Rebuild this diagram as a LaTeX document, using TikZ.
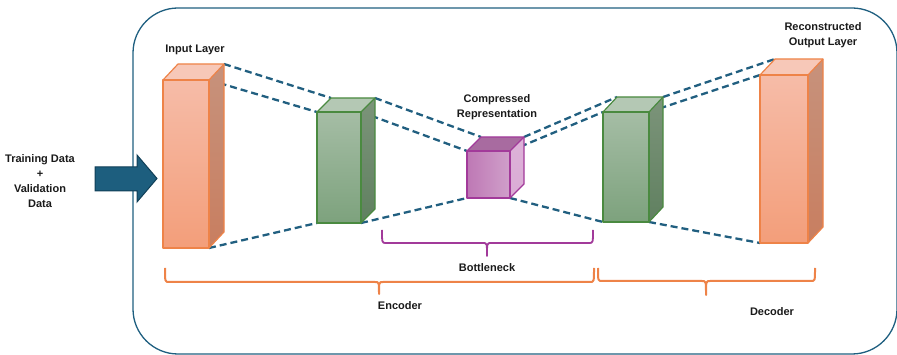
\documentclass[tikz,border=0pt]{standalone}
\usepackage{fontspec}
\setmainfont{Liberation Sans}
\usetikzlibrary{calc}
\definecolor{framecol}{HTML}{1F5F80}
\definecolor{dashcol}{HTML}{215F80}
\definecolor{arrowfill}{HTML}{1D5E7E}
\definecolor{arrowline}{HTML}{103F57}
\definecolor{orline}{HTML}{EE8348}
\definecolor{grline}{HTML}{4A8A40}
\definecolor{culine}{HTML}{A23A9A}
\definecolor{txtcol}{HTML}{1A1A1A}
\tikzset{
  orfront/.style={top color={rgb,255:red,246;green,188;blue,168}, bottom color={rgb,255:red,243;green,158;blue,122}},
  ortop/.style={fill={rgb,255:red,247;green,200;blue,184}},
  orside/.style={top color={rgb,255:red,199;green,146;blue,124}, bottom color={rgb,255:red,200;green,126;blue,96}},
  orline/.style={draw=orline, line width=1.2pt, line join=round},
  grfront/.style={top color={rgb,255:red,165;green,189;blue,165}, bottom color={rgb,255:red,125;green,162;blue,125}},
  grtop/.style={fill={rgb,255:red,180;green,200;blue,180}},
  grside/.style={top color={rgb,255:red,124;green,148;blue,122}, bottom color={rgb,255:red,96;green,128;blue,96}},
  grline/.style={draw=grline, line width=1.2pt, line join=round},
  cufront/.style={left color={rgb,255:red,190;green,120;blue,181}, right color={rgb,255:red,208;green,160;blue,202}},
  cutop/.style={fill={rgb,255:red,168;green,107;blue,160}},
  cuside/.style={top color={rgb,255:red,221;green,178;blue,216}, bottom color={rgb,255:red,218;green,172;blue,213}},
  culine/.style={draw=culine, line width=1.2pt, line join=round},
  link/.style={draw=dashcol, line width=2.3pt, dash pattern=on 7pt off 4pt},
  label/.style={font=\fontsize{11}{15}\selectfont\bfseries, text=txtcol, align=center, inner sep=0pt},
  orbrace/.style={draw=orline, line width=2pt, line join=round},
  cubrace/.style={draw=culine, line width=1.8pt, line join=round},
}
\newcommand\prismbox[7]{%
  \coordinate (#1-ftl) at (#2,#3);
  \coordinate (#1-ftr) at (#4,#3);
  \coordinate (#1-fbl) at (#2,#5);
  \coordinate (#1-fbr) at (#4,#5);
  \coordinate (#1-btl) at ($(#1-ftl)+(#6,-#7)$);
  \coordinate (#1-btr) at ($(#1-ftr)+(#6,-#7)$);
  \coordinate (#1-bbr) at ($(#1-fbr)+(#6,-#7)$);
}
\newcommand\prismdraw[2]{%
  \path[#2top] (#1-ftl) -- (#1-btl) -- (#1-btr) -- (#1-ftr) -- cycle;
  \shade[#2side] (#1-ftr) -- (#1-btr) -- (#1-bbr) -- (#1-fbr) -- cycle;
  \shade[#2front] (#1-ftl) rectangle (#1-fbr);
  \path[#2line] (#1-ftl) rectangle (#1-fbr);
  \path[#2line] (#1-ftl) -- (#1-btl) -- (#1-btr) -- (#1-bbr) -- (#1-fbr);
  \path[#2line] (#1-ftr) -- (#1-btr);
}
\begin{document}
\begin{tikzpicture}[x=1pt,y=-1pt]
\useasboundingbox (0,0) rectangle (897,355);
\begin{scope}
\clip (0,0) rectangle (897,355);
\draw[framecol, line width=1.3pt, rounded corners=45pt] (133,8) rectangle (897,354);
\end{scope}

% geometry
\prismbox{inp}{163}{80}{209}{248}{15}{16}
\prismbox{encA}{317}{112}{361}{223}{14}{14}
\prismbox{mid}{467}{151}{510}{198}{14}{14}
\prismbox{decA}{603}{112}{649}{222}{14}{15}
\prismbox{out}{760}{75}{808}{243}{15}{16}

% dashed links
\draw[link] (inp-btr) -- (encA-btl);
\draw[link] (inp-ftr) -- (encA-ftl);
\draw[link] (inp-fbr) -- (encA-fbl);
\draw[link] (encA-btr) -- (mid-btl);
\draw[link] (encA-ftr) -- (mid-ftl);
\draw[link] (encA-fbr) -- (mid-fbl);
\draw[link] (mid-btr) -- (decA-btl);
\draw[link] (mid-ftr) -- (decA-ftl);
\draw[link] (mid-fbr) -- (decA-fbl);
\draw[link] (decA-btr) -- (out-btl);
\draw[link] (decA-ftr) -- (out-ftl);
\draw[link] (decA-fbr) -- (out-fbl);

% boxes
\prismdraw{inp}{or}
\prismdraw{encA}{gr}
\prismdraw{mid}{cu}
\prismdraw{decA}{gr}
\prismdraw{out}{or}

% input arrow
\draw[fill=arrowfill, draw=arrowline, line width=1pt, line join=miter]
  (95,167) -- (137,167) -- (137,155) -- (157,178.5) -- (137,202) -- (137,191) -- (95,191) -- cycle;

% braces
\draw[cubrace] (382,230) .. controls (382,243) .. (386,243) -- (483,243)
  .. controls (487,243) .. (487,256) .. controls (487,243) .. (491,243) -- (589,243)
  .. controls (593,243) .. (593,230);
\draw[orbrace] (165,268) .. controls (165,282) .. (169,282) -- (375,282)
  .. controls (379,282) .. (379,294) .. controls (379,282) .. (383,282) -- (590,282)
  .. controls (594,282) .. (594,268);
\draw[orbrace] (598,268) .. controls (598,281) .. (602,281) -- (702,281)
  .. controls (706,281) .. (706,295) .. controls (706,281) .. (710,281) -- (811,281)
  .. controls (815,281) .. (815,268);

% labels
\node[label] (tin) at (40,181) {Training Data\\+\\Validation\\Data};
\node[label] (linp) at (195,50) {Input Layer};
\node[label] (lmid) at (497,107) {Compressed\\Representation};
\node[label] (lout) at (823,35.5) {Reconstructed\\Output Layer};
\node[label] (lbot) at (487,268) {Bottleneck};
\node[label] (lenc) at (400,306) {Encoder};
\node[label] (ldec) at (772,312) {Decoder};
\end{tikzpicture}
\end{document}
